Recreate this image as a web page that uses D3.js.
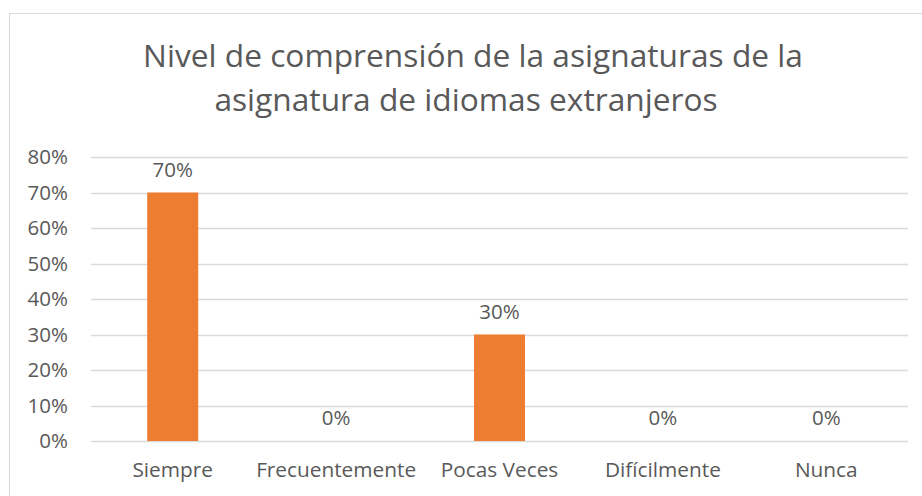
<!DOCTYPE html>
<html>
<head>
<meta charset="utf-8">
<script src="https://cdn.jsdelivr.net/npm/d3@7"></script>
<style>
  body { margin: 0; background: #fff; }
  svg text { font-family: "Open Sans", sans-serif; fill: #595959; }
</style>
</head>
<body>
<div class="chart__container"></div>
<script>
/*---------------------------Init---------------------------*/

const CHART__WIDTH = 922;
const CHART__HEIGHT = 496;
const MARGIN = { top: 157, right: 14, bottom: 55, left: 91 };
const COLOR = { bar: "#ED7D31", grid: "#D9D9D9", text: "#595959" };
const TITLE_X = [473, 466];

const TITLE_LINES = ["Nivel de comprensión de la asignaturas de la", "asignatura de idiomas extranjeros"];
const CATEGORIES = ["Siempre", "Frecuentemente", "Pocas Veces", "Difícilmente", "Nunca"];
const VALUES = [0.70, 0, 0.30, 0, 0];
const Y_TICKS = [0, 0.1, 0.2, 0.3, 0.4, 0.5, 0.6, 0.7, 0.8];

const svg = d3.select(".chart__container").append("svg")
    .attr("width", CHART__WIDTH)
    .attr("height", CHART__HEIGHT);

//chart border
svg.append("rect")
    .attr("x", 9.5).attr("y", 13.5)
    .attr("width", CHART__WIDTH).attr("height", CHART__HEIGHT)
    .attr("fill", "none").attr("stroke", COLOR.grid);

const xScale = d3.scaleBand().domain(CATEGORIES).range([MARGIN.left, CHART__WIDTH - MARGIN.right]);
const yScale = d3.scaleLinear().domain([0, 0.8]).range([CHART__HEIGHT - MARGIN.bottom, MARGIN.top]);
const barWidth = xScale.bandwidth() * 0.312;

//title
svg.append("g").selectAll("text")
    .data(TITLE_LINES)
    .enter().append("text")
    .attr("x", (d, i) => TITLE_X[i])
    .attr("y", (d, i) => 67 + i * 44)
    .attr("text-anchor", "middle")
    .style("font-size", "31.7px")
    .text(d => d);

//gridlines
svg.append("g").selectAll("line")
    .data(Y_TICKS)
    .enter().append("line")
    .attr("x1", MARGIN.left).attr("x2", CHART__WIDTH - MARGIN.right)
    .attr("y1", d => Math.round(yScale(d)) + 0.5)
    .attr("y2", d => Math.round(yScale(d)) + 0.5)
    .attr("stroke", COLOR.grid)
    .attr("stroke-width", 1.3);

//y-axis
const yAxis = d3.axisLeft(yScale).tickValues(Y_TICKS).tickFormat(d3.format(".0%")).tickSize(0).tickPadding(23);
const yG = svg.append("g").attr("transform", `translate(${MARGIN.left},0)`).call(yAxis);
yG.select(".domain").remove();
yG.selectAll("text").style("font-size", "20.5px").style("font-family", null).attr("fill", null);

//x-axis
const xAxis = d3.axisBottom(xScale).tickSize(0).tickPadding(21);
const xG = svg.append("g").attr("transform", `translate(0,${CHART__HEIGHT - MARGIN.bottom})`).call(xAxis);
xG.select(".domain").remove();
xG.selectAll("text").style("font-size", "20.8px").style("font-family", null).attr("fill", null);

//bars
const bars = svg.append("g");
bars.selectAll("rect")
    .data(VALUES)
    .enter().append("rect")
    .attr("x", (d, i) => xScale(CATEGORIES[i]) + (xScale.bandwidth() - barWidth) / 2)
    .attr("y", d => yScale(d))
    .attr("width", barWidth)
    .attr("height", d => yScale(0) - yScale(d))
    .attr("fill", COLOR.bar);

//data labels
bars.selectAll("text")
    .data(VALUES)
    .enter().append("text")
    .attr("x", (d, i) => xScale(CATEGORIES[i]) + xScale.bandwidth() / 2)
    .attr("y", d => yScale(d) - 16)
    .attr("text-anchor", "middle")
    .style("font-size", "20.5px")
    .text(d => d3.format(".0%")(d));
</script>
</body>
</html>
